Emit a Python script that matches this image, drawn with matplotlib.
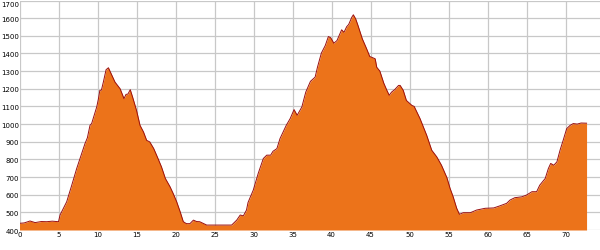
import numpy as np
import matplotlib
matplotlib.use("Agg")
import matplotlib.pyplot as plt
import matplotlib.transforms as mtransforms

# distance (km) and elevation (m)
km = [0.0, 0.6, 1.35, 2.0, 2.8, 3.5, 4.2, 5.0, 5.2, 6.05, 6.7, 7.33, 7.97, 8.4, 8.7,
      9.04, 9.25, 9.9, 10.1, 10.3, 10.5, 10.75, 11.1, 11.4, 11.8, 12.24, 12.9, 13.4,
      13.65, 13.9, 14.2, 14.5, 15.0, 15.36, 15.45, 15.9, 16.3, 16.7, 17.2, 17.67,
      18.2, 18.7, 19.3, 19.7, 20.15, 20.6, 21.0, 21.4, 21.85, 22.3, 22.7, 23.1, 24.0,
      25.0, 26.0, 27.2, 27.85, 28.3, 28.7, 29.1, 29.3, 29.97, 30.6, 31.26, 31.7, 32.2,
      32.5, 33.0, 33.4, 34.2, 34.7, 35.2, 35.6, 36.2, 36.7, 37.3, 37.9, 38.2, 38.7,
      39.2, 39.6, 39.9, 40.3, 40.7, 41.3, 41.6, 41.95, 42.2, 42.6, 42.8, 43.1, 43.4,
      43.95, 44.5, 44.9, 45.6, 45.8, 46.2, 46.7, 47.1, 47.4, 47.7, 48.1, 48.6, 48.8,
      49.2, 49.6, 50.3, 50.6, 51.35, 51.6, 52.2, 52.85, 53.5, 54.1, 54.8, 55.2, 55.6,
      56.05, 56.4, 56.9, 57.8, 58.6, 59.7, 60.8, 61.6, 62.45, 62.9, 63.5, 64.4, 65.0,
      65.7, 66.3, 66.7, 67.4, 67.8, 68.1, 68.5, 68.9, 69.3, 69.7, 70.15, 70.6, 71.0,
      71.5, 72.0, 72.7]
elev = [438, 440, 451, 442, 448, 447, 450, 447, 485, 560, 654, 748, 833, 890, 922,
        993, 1003, 1097, 1139, 1191, 1192, 1238, 1308, 1319, 1281, 1238, 1200, 1144,
        1168, 1170, 1195, 1153, 1078, 1012, 993, 955, 908, 899, 862, 814,
        758, 692, 645, 607, 560, 503, 447, 436, 436, 456, 448, 447, 428,
        428, 428, 428, 456, 485, 480, 513, 556, 626, 720, 805, 824, 824,
        846, 861, 918, 993, 1031, 1082, 1050, 1097, 1181, 1242, 1266, 1322, 1402,
        1445, 1496, 1489, 1458, 1473, 1534, 1520, 1552, 1564, 1605, 1619, 1596, 1558,
        1483, 1427, 1383, 1370, 1322, 1300, 1232, 1191, 1163, 1181, 1195, 1219, 1219,
        1191, 1134, 1106, 1100, 1031, 1003, 937, 852, 814, 767, 696, 636, 588,
        523, 489, 498, 498, 513, 523, 525, 537, 551, 570, 583, 588, 598,
        617, 617, 654, 692, 748, 777, 767, 786, 852, 908, 974, 993, 1003,
        1000, 1006, 1005]

x_ticks = [0, 5, 10, 15, 20, 25, 30, 35, 40, 45, 50, 55, 60, 65, 70, 75]
y_ticks = [400, 500, 600, 700, 800, 900, 1000, 1100, 1200, 1300, 1400, 1500, 1600, 1700]

fig = plt.figure(figsize=(6, 2.5), dpi=100)
ax = fig.add_axes([0.0325, 0.08, 0.975, 0.918])

ax.fill_between(km, 400, elev, color="#ec731a", lw=0, zorder=2)
ax.plot(km, elev, color="#9a0f0f", lw=0.7, zorder=3)

ax.set_xlim(0, 75)
ax.set_ylim(400, 1700)
ax.set_xticks(x_ticks)
ax.set_yticks(y_ticks)
ax.grid(color="#c8c8c8", lw=0.9, zorder=0)
ax.set_axisbelow(True)
for s in ax.spines.values():
    s.set_visible(False)
ax.tick_params(axis="x", length=0, labelsize=5, pad=1.5)
ax.tick_params(axis="y", length=0, labelsize=5, pad=0.5)

# labels sit a touch below their grid lines; the top one hangs from the edge
shift = mtransforms.ScaledTranslation(0, -1 / 100, fig.dpi_scale_trans)
for lab in ax.get_yticklabels():
    lab.set_transform(lab.get_transform() + shift)
ax.get_yticklabels()[-1].set_va("top")

fig.savefig("out.png", dpi=100)
